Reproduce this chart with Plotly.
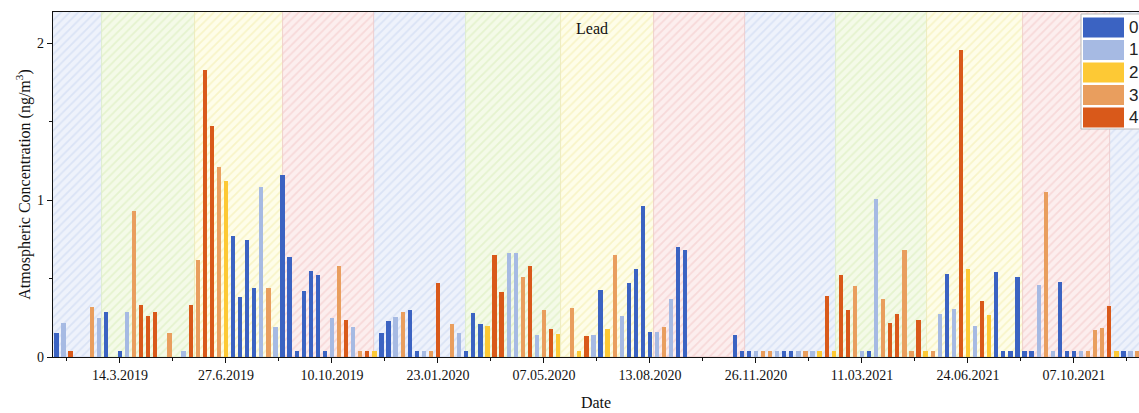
import plotly.graph_objects as go

# Weekly lead samples: cluster label (0-4) and concentration (ng/m3); None = no sample
cluster = [
    0, 1, 4, None, None, 3, 1, 0, None, 0,
    1, 3, 4, 4, 4, None, 3, None, 1, 4,
    3, 4, 4, 3, 2, 0, 0, 0, 0, 1,
    3, 1, 0, 0, 0, 0, 0, 0, 0, 1,
    3, 4, 1, 3, 4, 2, 0, 0, 1, 3,
    0, 0, 1, 3, 4, None, 3, 1, 0, 0,
    0, 2, 4, 4, 1, 1, 3, 4, 1, 3,
    4, 2, None, 3, 2, 4, 1, 0, 2, 3,
    1, 0, 0, 0, 0, 1, 3, 1, 0, 0,
    None, None, None, None, None, None, 0, 0, 0, 1,
    3, 3, 1, 0, 0, 1, 3, 1, 2, 4,
    2, 4, 4, 3, 1, 0, 1, 3, 4, 4,
    3, 3, 4, 2, 3, 1, 0, 1, 4, 2,
    1, 4, 2, 0, 0, 0, 0, 0, 0, 1,
    3, 1, 0, 0, 0, 1, 3, 3, 3, 4,
    2, 0, 1, 3,
]
conc = [
    0.15, 0.22, 0.04, None, None, 0.32, 0.25, 0.29, None, 0.04,
    0.29, 0.93, 0.33, 0.26, 0.29, None, 0.15, None, 0.04, 0.33,
    0.62, 1.83, 1.47, 1.21, 1.12, 0.77, 0.38, 0.745, 0.44, 1.085,
    0.44, 0.19, 1.16, 0.64, 0.04, 0.42, 0.55, 0.52, 0.04, 0.25,
    0.58, 0.236, 0.19, 0.04, 0.04, 0.04, 0.15, 0.23, 0.255, 0.29,
    0.30, 0.04, 0.04, 0.04, 0.47, None, 0.21, 0.15, 0.04, 0.28,
    0.21, 0.20, 0.65, 0.415, 0.665, 0.665, 0.51, 0.58, 0.14, 0.30,
    0.177, 0.145, None, 0.31, 0.04, 0.136, 0.14, 0.43, 0.18, 0.65,
    0.26, 0.47, 0.56, 0.96, 0.16, 0.16, 0.19, 0.37, 0.70, 0.68,
    None, None, None, None, None, None, 0.14, 0.04, 0.04, 0.04,
    0.04, 0.04, 0.04, 0.04, 0.04, 0.04, 0.04, 0.04, 0.04, 0.39,
    0.04, 0.52, 0.30, 0.45, 0.04, 0.04, 1.006, 0.37, 0.22, 0.277,
    0.685, 0.04, 0.234, 0.04, 0.04, 0.277, 0.53, 0.304, 1.96, 0.56,
    0.20, 0.36, 0.27, 0.54, 0.04, 0.04, 0.51, 0.04, 0.04, 0.46,
    1.053, 0.04, 0.477, 0.04, 0.04, 0.04, 0.04, 0.17, 0.185, 0.323,
    0.04, 0.04, 0.04, 0.04,
]

cluster_names = ["0", "1", "2", "3", "4"]
cluster_colors = ["#3B63C2", "#A6BAE3", "#FDC935", "#E99E5E", "#D9591A"]

# Date labels shown every 15 samples, starting at sample 9
tick_samples = [9, 24, 39, 54, 69, 84, 99, 114, 129, 144]
tick_dates = ["14.3.2019", "27.6.2019", "10.10.2019", "23.01.2020", "07.05.2020",
              "13.08.2020", "26.11.2020", "11.03.2021", "24.06.2021", "07.10.2021"]

# Season spans in sample units
season_edges = [-0.5, 6.45, 19.6, 32.05, 45.0, 57.9, 71.4, 84.5,
                97.4, 110.3, 123.2, 136.8, 149.1, 154.0]
season_names = ["winter", "spring", "summer", "autumn"] * 3 + ["winter"]

season_style = {
    "winter": dict(bg="#EEF2FB", fg="#C6D3EF", edge="#D3DCF0"),
    "spring": dict(bg="#F4FAE8", fg="#D5EBB3", edge="#DDEDC6"),
    "summer": dict(bg="#FEFDE9", fg="#F2EBA6", edge="#EEE8B8"),
    "autumn": dict(bg="#FCEEEE", fg="#F2C3C3", edge="#EDCACA"),
}

Y_MAX = 2.2
X_MIN, X_MAX = -0.48, 153.2

fig = go.Figure()

# Hatched season backgrounds
for season, st in season_style.items():
    xs, ws = [], []
    for k, name in enumerate(season_names):
        if name == season:
            a, b = season_edges[k], season_edges[k + 1]
            xs.append((a + b) / 2)
            ws.append(b - a)
    fig.add_trace(go.Bar(
        x=xs, y=[Y_MAX] * len(xs), width=ws,
        marker=dict(
            color=st["bg"],
            line=dict(color=st["edge"], width=0.8),
            pattern=dict(shape="/", bgcolor=st["bg"], fgcolor=st["fg"],
                         size=6, solidity=0.28),
        ),
        hoverinfo="skip", showlegend=False,
    ))

# Concentration bars, one trace per cluster
for c, (name, color) in enumerate(zip(cluster_names, cluster_colors)):
    xs = [i for i, g in enumerate(cluster) if g == c and conc[i] is not None]
    ys = [conc[i] for i in xs]
    fig.add_trace(go.Bar(
        x=xs, y=ys, name=name, width=0.6,
        marker=dict(color=color, line=dict(width=0)),
        showlegend=False,
    ))

# Plot-area geometry in pixels, used to place the legend box
W, H = 1139, 413
L, R, T, B = 53, 0, 12, 56
pw, ph = W - L - R, H - T - B


def px_x(p):
    return (p - L) / pw


def px_y(q):
    return (H - B - q) / ph


shapes = [dict(type="rect", xref="paper", yref="paper",
               x0=px_x(1081), x1=px_x(1150), y0=px_y(129), y1=px_y(14),
               line=dict(color="#B8B8B8", width=1), fillcolor="white", layer="above")]
annotations = []
for k, (name, color) in enumerate(zip(cluster_names, cluster_colors)):
    top = 17.5 + k * 22.5
    shapes.append(dict(type="rect", xref="paper", yref="paper",
                       x0=px_x(1083), x1=px_x(1124), y0=px_y(top + 20), y1=px_y(top),
                       line=dict(width=0), fillcolor=color, layer="above"))
    annotations.append(dict(xref="paper", yref="paper", x=px_x(1127), y=px_y(top + 10),
                            text=name, showarrow=False, xanchor="left", yanchor="middle",
                            font=dict(family="Liberation Sans, Arial", size=17, color="#222")))

annotations.append(dict(xref="paper", yref="paper", x=px_x(592), y=px_y(28),
                        text="Lead", showarrow=False, xanchor="center", yanchor="middle",
                        font=dict(family="Liberation Serif, Times New Roman", size=16,
                                  color="#111")))

serif = "Liberation Serif, Times New Roman, serif"
fig.update_layout(
    width=W, height=H,
    margin=dict(l=L, r=R, t=T, b=B),
    paper_bgcolor="white", plot_bgcolor="white",
    barmode="overlay", bargap=0,
    font=dict(family=serif, size=14, color="#111"),
    shapes=shapes, annotations=annotations,
    xaxis=dict(
        range=[X_MIN, X_MAX], showgrid=False, zeroline=False,
        showline=True, linecolor="#111", linewidth=1.3, mirror=True,
        ticks="outside", ticklen=5, tickwidth=1.2, tickcolor="#111",
        tickmode="array", tickvals=tick_samples, ticktext=tick_dates,
        tickfont=dict(family=serif, size=14),
        minor=dict(tickmode="array", tickvals=[t - 7.5 for t in tick_samples] + [tick_samples[-1] + 7.5],
                   ticks="outside", ticklen=3, tickwidth=1, tickcolor="#111"),
        title=dict(text="Date", font=dict(family=serif, size=16), standoff=14),
    ),
    yaxis=dict(
        range=[0, Y_MAX], showgrid=False, zeroline=False,
        showline=True, linecolor="#111", linewidth=1.3,
        ticks="outside", ticklen=5, tickwidth=1.2, tickcolor="#111",
        tickmode="array", tickvals=[0, 1, 2],
        tickfont=dict(family=serif, size=14),
        minor=dict(tickmode="array", tickvals=[0.5, 1.5], ticks="outside",
                   ticklen=3, tickwidth=1, tickcolor="#111"),
        title=dict(text="Atmospheric Concentration (ng/m<sup>3</sup>)",
                   font=dict(family=serif, size=16), standoff=2),
    ),
)

fig.write_html("out.html")
